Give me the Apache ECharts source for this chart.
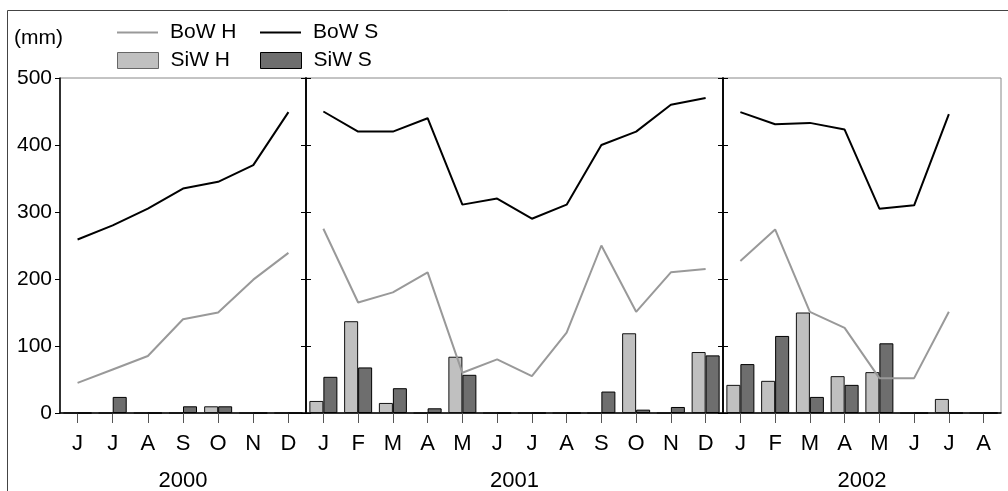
<!DOCTYPE html>
<html>
<head>
<meta charset="utf-8">
<script src="https://cdn.jsdelivr.net/npm/echarts@6/dist/echarts.min.js"></script>
<style>
html,body{margin:0;padding:0;background:#fff;}
#chart{width:1008px;height:491px;}
</style>
</head>
<body>
<div id="chart"></div>
<script>
const years = ['2000', '2001', '2002'];
const months2000 = ['J','J','A','S','O','N','D'];
const months2001 = ['J','F','M','A','M','J','J','A','S','O','N','D'];
const months2002 = ['J','F','M','A','M','J','J','A'];
const yTicks = [0, 100, 200, 300, 400, 500];

const bowH2000 = [45, 65, 85, 140, 150, 199, 239];
const bowS2000 = [259, 280, 305, 335, 345, 370, 449];
const siwH2000 = [0, 0, 0, 0, 10, 0, 0];
const siwS2000 = [0, 24, 0, 10, 10, 0, 0];

const bowH2001 = [275, 165, 180, 210, 60, 80, 55, 120, 250, 151, 210, 215];
const bowS2001 = [450, 420, 420, 440, 311, 320, 290, 311, 400, 420, 460, 470];
const siwH2001 = [18, 137, 15, 0, 84, 0, 0, 0, 0, 119, 0, 91];
const siwS2001 = [54, 68, 37, 7, 57, 0, 0, 0, 32, 5, 9, 86];

const bowH2002 = [227, 274, 151, 127, 52, 52, 151, null];
const bowS2002 = [449, 431, 433, 423, 305, 310, 446, null];
const siwH2002 = [42, 48, 150, 55, 61, 0, 21, 0];
const siwS2002 = [73, 115, 24, 42, 104, 0, 0, 0];

const monthSets = [months2000, months2001, months2002];
const bowH = [bowH2000, bowH2001, bowH2002];
const bowS = [bowS2000, bowS2001, bowS2002];
const siwH = [siwH2000, siwH2001, siwH2002];
const siwS = [siwS2000, siwS2001, siwS2002];

const FONT = '"Liberation Sans", Arial, Helvetica, sans-serif';
const gridBase = {top: 78, height: 335, show: true, borderColor: '#888', borderWidth: 1, containLabel: false, outerBoundsMode: 'none'};
const grids = [
  Object.assign({left: 60, width: 246}, gridBase),
  Object.assign({left: 306, width: 417}, gridBase),
  Object.assign({left: 723, width: 278}, gridBase)
];

const xAxes = years.map((y, i) => ({
  type: 'category', gridIndex: i, data: monthSets[i], boundaryGap: true,
  axisLine: {show: true, onZero: false, lineStyle: {color: '#000', width: 1.5}},
  axisTick: {show: true, alignWithLabel: true, length: 10, lineStyle: {color: '#555', width: 1}},
  axisLabel: {interval: 0, fontSize: 22, color: '#000', fontFamily: FONT, margin: 20},
  splitLine: {show: false},
  name: y, nameLocation: 'middle', nameGap: 57,
  nameTextStyle: {fontSize: 22, color: '#000', fontFamily: FONT}
}));

function yAx(gi, pos, opts) {
  return Object.assign({
    type: 'value', gridIndex: gi, position: pos, min: yTicks[0], max: yTicks[yTicks.length - 1], interval: 100,
    axisLine: {show: true, lineStyle: {color: '#000', width: 1.5}},
    axisTick: {show: true, inside: true, length: 5, lineStyle: {color: '#000', width: 1}},
    axisLabel: {show: false},
    splitLine: {show: false}
  }, opts || {});
}

const yAxes = [
  yAx(0, 'left', {
    axisTick: {show: true, inside: false, length: 5, lineStyle: {color: '#000', width: 1}},
    axisLabel: {show: true, fontSize: 21, color: '#000', fontFamily: FONT, margin: 8}
  }),
  yAx(0, 'right'),
  yAx(1, 'left'),
  yAx(1, 'right'),
  yAx(2, 'left')
];
const yIdx = [0, 2, 4];

const series = [];
years.forEach((y, i) => {
  series.push({
    name: 'SiW H', type: 'bar', xAxisIndex: i, yAxisIndex: yIdx[i], data: siwH[i],
    barWidth: 14, barGap: '0%',
    itemStyle: {color: '#c0c0c0', borderColor: '#111', borderWidth: 1}
  });
  series.push({
    name: 'SiW S', type: 'bar', xAxisIndex: i, yAxisIndex: yIdx[i], data: siwS[i],
    barWidth: 14, barGap: '0%',
    itemStyle: {color: '#6e6e6e', borderColor: '#000', borderWidth: 1}
  });
  series.push({
    name: 'BoW H', type: 'line', xAxisIndex: i, yAxisIndex: yIdx[i], data: bowH[i],
    symbol: 'none', lineStyle: {color: '#999', width: 2}, itemStyle: {color: '#999'}, z: 3
  });
  series.push({
    name: 'BoW S', type: 'line', xAxisIndex: i, yAxisIndex: yIdx[i], data: bowS[i],
    symbol: 'none', lineStyle: {color: '#000', width: 2}, itemStyle: {color: '#000'}, z: 3
  });
});

function leg(name, left, top, h, style) {
  return {
    data: [name], left: left, top: top, itemWidth: 41, itemHeight: h, padding: 0,
    icon: 'rect', selectedMode: false, itemStyle: style,
    textStyle: {fontSize: 21, color: '#000', fontFamily: FONT, padding: [0, 0, 0, 7]}
  };
}

const option = {
  animation: false,
  backgroundColor: '#fff',
  grid: grids,
  xAxis: xAxes,
  yAxis: yAxes,
  legend: [
    leg('BoW H', 117, 22, 2, {color: '#999', borderWidth: 0}),
    leg('BoW S', 260, 22, 2, {color: '#000', borderWidth: 0}),
    leg('SiW H', 117, 50, 16, {color: '#c0c0c0', borderColor: '#666', borderWidth: 1}),
    leg('SiW S', 260, 50, 16, {color: '#6e6e6e', borderColor: '#000', borderWidth: 1})
  ],
  graphic: [
    {type: 'rect', shape: {x: 7.5, y: 10.5, width: 1200, height: 600}, style: {fill: 'none', stroke: '#444', lineWidth: 1}, silent: true},
    {type: 'text', left: 14, top: 28, style: {text: '(mm)', fontSize: 21, fill: '#000', fontFamily: FONT}}
  ],
  series: series
};

const chart = echarts.init(document.getElementById('chart'), null, {renderer: 'canvas'});
chart.setOption(option);
</script>
</body>
</html>
